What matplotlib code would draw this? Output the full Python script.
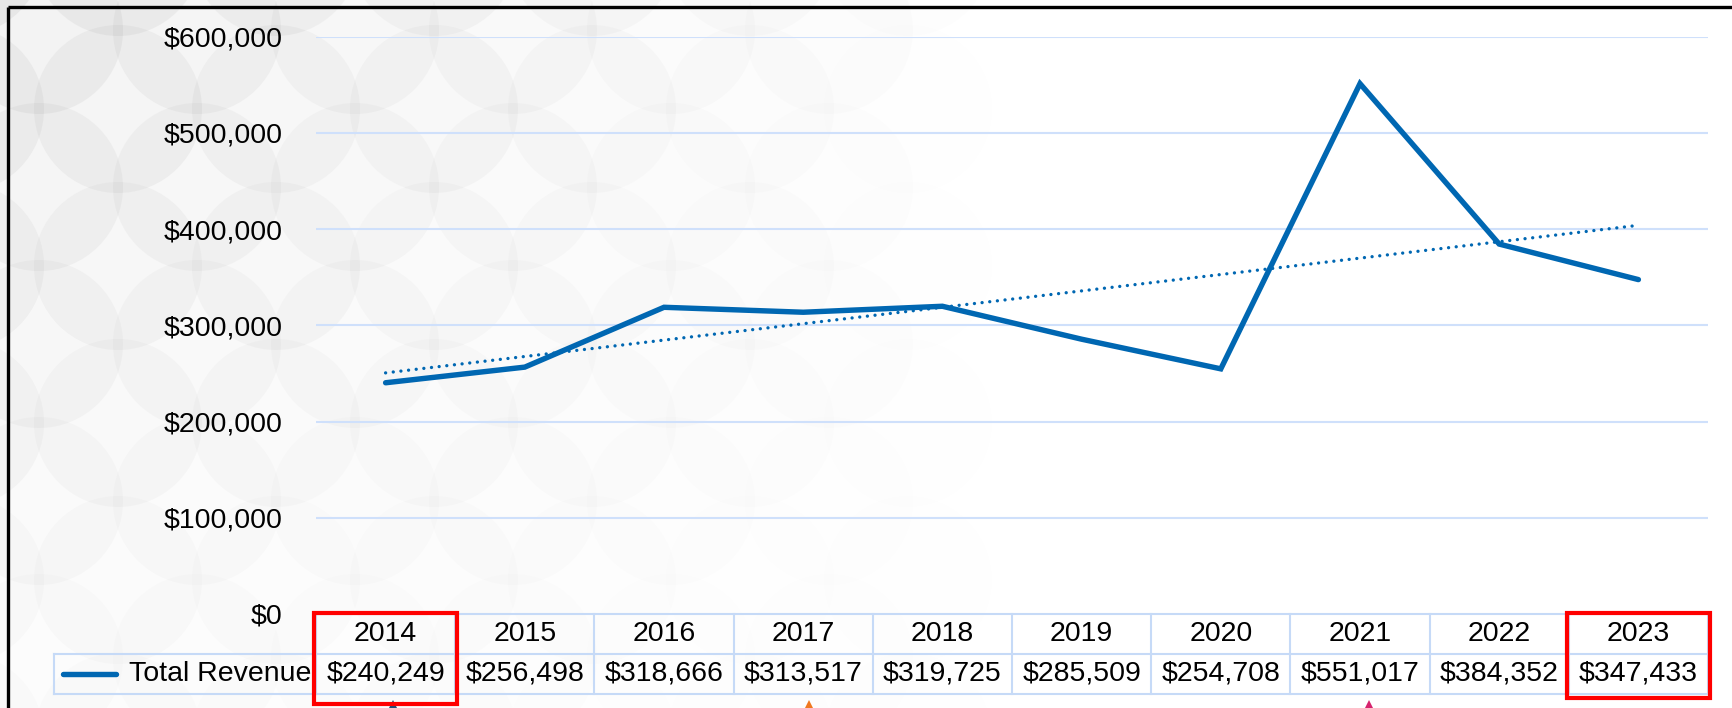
import matplotlib.pyplot as plt
import numpy as np
from matplotlib.patches import Circle, Rectangle, Polygon
from matplotlib.transforms import blended_transform_factory

# data
years = ['2014', '2015', '2016', '2017', '2018', '2019', '2020', '2021', '2022', '2023']
revenue = [240249, 256498, 318666, 313517, 319725, 285509, 254708, 551017, 384352, 347433]
series_name = 'Total Revenue'
y_ticks = [0, 100000, 200000, 300000, 400000, 500000, 600000]
highlight = [0, 9]

plt.rcParams['font.family'] = ['Liberation Sans', 'DejaVu Sans']
blue = '#0067B2'
grid_c = '#CFE0FB'
FS = 20.5

W, H = 1732, 708
fig = plt.figure(figsize=(W / 100, H / 100), dpi=100)

# background layer in pixel coords (y downward)
bg = fig.add_axes([0, 0, 1, 1], zorder=0)
bg.set_xlim(0, W)
bg.set_ylim(H, 0)
bg.axis('off')
for gx0, gy0 in [(118, 109), (39, 30)]:
    for cx in np.arange(gx0 - 158, 1200, 158):
        for cy in np.arange(gy0 - 157, 800, 157):
            fade = max(0.0, 1 - cx / 1000) * max(0.2, 1 - cy / 850)
            if fade <= 0:
                continue
            bg.add_patch(Circle((cx, cy), 84, color='#8f8f8f', alpha=0.11 * fade, lw=0))

# black frame (left & top)
bg.plot([8, 8], [7, H], color='black', lw=2.4, solid_capstyle='butt')
bg.plot([8, W], [7, 7], color='black', lw=2.4, solid_capstyle='butt')

# arrow tips peeking from the bottom edge
for ax_x, col in [(393, '#1f4e79'), (809, '#f07820'), (1369, '#d6246e')]:
    bg.add_patch(Polygon([[ax_x - 4, H], [ax_x, H - 8], [ax_x + 4, H]], color=col, lw=0))

# main axes
left, right = 316 / W, 1708 / W
bottom, top = (H - 614) / H, (H - 36.5) / H
ax = fig.add_axes([left, bottom, right - left, top - bottom], zorder=2)
ax.patch.set_alpha(0)
x = np.arange(len(years))
ax.set_xlim(-0.5, len(years) - 0.5)
ax.set_ylim(0, 600000)
for s in ax.spines.values():
    s.set_visible(False)
ax.set_xticks([])
ax.set_yticks(y_ticks)
ax.set_yticklabels(['${:,.0f}'.format(v) for v in y_ticks], fontsize=FS)
ax.tick_params(axis='y', length=0, pad=24)
for v in y_ticks[1:]:
    ax.axhline(v, color=grid_c, lw=1.5, zorder=1)

ax.plot(x, revenue, color=blue, lw=3.9, solid_capstyle='round', solid_joinstyle='miter', zorder=3)
k, b = np.polyfit(x, revenue, 1)
ax.plot(x, k * x + b, color=blue, lw=2.4, linestyle=(0, (0.01, 2.3)),
        dash_capstyle='round', zorder=3)

# data table under the axes
tr = blended_transform_factory(ax.transData, ax.transAxes)
ah = top - bottom
px = 1 / (ah * H)
r0, r1, r2 = 0, -40 * px, -80 * px
leg_left = (54 - 316) / 1392
kw = dict(color='#C6DAF7', lw=1.5, clip_on=False, zorder=2)
n = len(years)
ax.plot([-0.5, n - 0.5], [r1, r1], transform=tr, **kw)
ax.plot([-0.5, n - 0.5], [r2, r2], transform=tr, **kw)
ax.plot([leg_left, 0], [r1, r1], transform=ax.transAxes, **kw)
ax.plot([leg_left, 0], [r2, r2], transform=ax.transAxes, **kw)
ax.plot([leg_left, leg_left], [r1, r2], transform=ax.transAxes, **kw)
ax.plot([-0.5, n - 0.5], [r0, r0], transform=tr, **kw)
for i in range(n + 1):
    ax.plot([i - 0.5, i - 0.5], [r0, r2], transform=tr, **kw)
for i in range(n):
    ax.text(i, (r0 + r1) / 2, years[i], transform=tr, ha='center', va='center', fontsize=FS, zorder=4)
    ax.text(i, (r1 + r2) / 2, '${:,.0f}'.format(revenue[i]), transform=tr,
            ha='center', va='center', fontsize=FS, zorder=4)
ax.text(-0.003, (r1 + r2) / 2, series_name, transform=ax.transAxes, ha='right', va='center',
        fontsize=FS, zorder=4)
ax.plot([(63 - 316) / 1392, (116 - 316) / 1392], [(r1 + r2) / 2] * 2, transform=ax.transAxes,
        color=blue, lw=3.9, solid_capstyle='round', clip_on=False, zorder=4)

# red highlight boxes
for i in highlight:
    bot = -90 * px if i == 0 else -84 * px
    ax.add_patch(Rectangle((i - 0.515, bot), 1.03, -bot + 1 * px, transform=tr, fill=False,
                           edgecolor='#FF0000', lw=3, clip_on=False, zorder=5))

fig.savefig('out.png', dpi=100)
